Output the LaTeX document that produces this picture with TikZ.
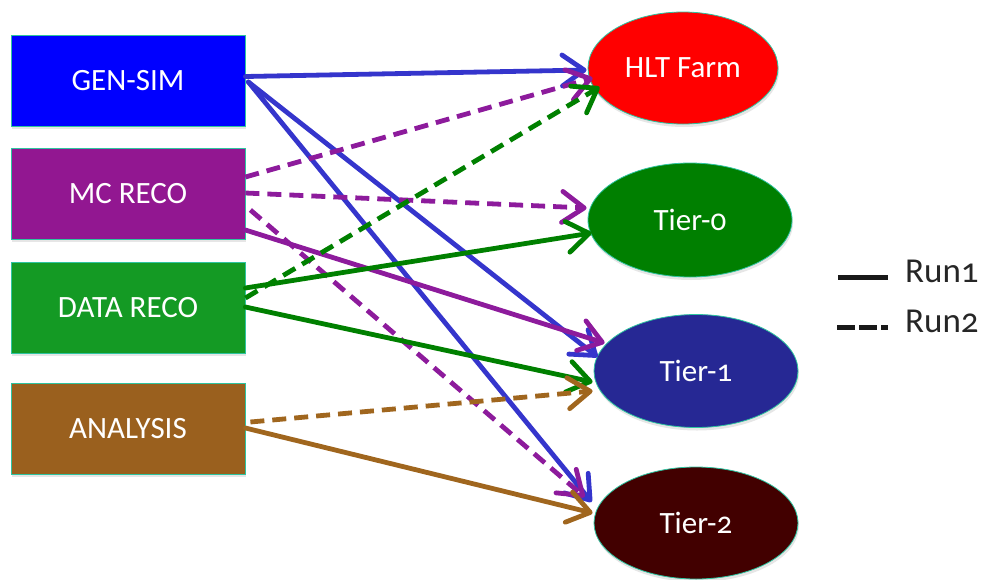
\documentclass[tikz,border=0pt]{standalone}
\usepackage{fontspec}
\setmainfont{Carlito}[Numbers=OldStyle]
\usetikzlibrary{arrows.meta,calc,shadows,shapes.geometric}
\definecolor{cgs}{HTML}{0000FF}
\definecolor{cmc}{HTML}{921791}
\definecolor{cdr}{HTML}{149A24}
\definecolor{can}{HTML}{9A601E}
\definecolor{edge}{HTML}{2EC4A0}
\definecolor{chlt}{HTML}{FF0000}
\definecolor{ct0}{HTML}{007F00}
\definecolor{ct1}{HTML}{262894}
\definecolor{ct2}{HTML}{420000}
\definecolor{ablue}{HTML}{3535CC}
\definecolor{apurple}{HTML}{8D1B9C}
\definecolor{agreen}{HTML}{008000}
\definecolor{abrown}{HTML}{A0661E}
\begin{document}
\begin{tikzpicture}[x=1pt,y=-1pt,
  shade/.style={drop shadow={opacity=0.2,shadow xshift=1pt,shadow yshift=-3pt}},
  box/.style={shade,draw=edge,line width=0.8pt,minimum width=234pt,minimum height=91pt,
    inner sep=0pt,text=white,font=\fontsize{31}{37}\selectfont},
  oval/.style={shade,ellipse,draw=edge,line width=0.8pt,inner sep=0pt,text=white,
    font=\fontsize{31}{37}\selectfont},
  arr/.style={line width=4.8pt,line cap=round,
    -{Straight Barb[length=22pt,width=31pt,line cap=round,line join=round]}},
  dsh/.style={dash pattern=on 14pt off 8pt,line cap=butt},
  legtext/.style={anchor=base west,text=black!85,font=\fontsize{35}{42}\selectfont,inner sep=0pt}
]
\useasboundingbox (0,0) rectangle (985,579);
% boxes
\node[box,fill=cgs] (gs) at (128,80.5) {GEN-SIM};
\node[box,fill=cmc] (mc) at (128,193.5) {MC RECO};
\node[box,fill=cdr] (dr) at (128,307.5) {DATA RECO};
\node[box,fill=can] (an) at (128,428.5) {ANALYSIS};
% ellipses
\node[oval,fill=chlt,minimum width=190pt,minimum height=112pt] (hlt) at (683,68) {HLT Farm};
\node[oval,fill=ct0,minimum width=204pt,minimum height=114pt] (t0) at (690,220) {Tier-0};
\node[oval,fill=ct1,minimum width=204pt,minimum height=113pt] (t1) at (696,371) {Tier-1};
\node[oval,fill=ct2,minimum width=204pt,minimum height=112pt] (t2) at (696,523) {Tier-2};
% arrows
\draw[arr,ablue] ($(gs.east)+(0,-4)$) -- ($(hlt.west)+(-1,2)$);
\draw[arr,ablue] ($(gs.east)+(3,1.5)$) -- ($(t1.west)+(4,-14)$);
\draw[arr,ablue] ($(gs.east)+(3,1.5)$) -- ($(t2.west)+(-2,-21)$);
\draw[arr,apurple,dsh] ($(mc.east)+(0,-16.5)$) -- ($(hlt.west)+(5,10)$);
\draw[arr,apurple,dsh] ($(mc.east)+(0,-0.5)$) -- ($(t0.west)+(-1,-12)$);
\draw[arr,apurple,dsh] ($(mc.east)+(5,16.5)$) -- ($(t2.west)+(-9,-26)$);
\draw[arr,apurple] ($(mc.east)+(0,36.5)$) -- ($(t1.west)+(11,-28)$);
\draw[arr,agreen,dsh] ($(dr.east)+(0,-9.5)$) -- ($(hlt.west)+(12,19)$);
\draw[arr,agreen] ($(dr.east)+(0,-19.5)$) -- ($(t0.west)+(4,13)$);
\draw[arr,agreen] ($(dr.east)+(0,-0.5)$) -- ($(t1.west)+(-1,11)$);
\draw[arr,abrown,dsh] ($(an.east)+(5,-6.5)$) -- ($(t1.west)+(-1,20)$);
\draw[arr,abrown] ($(an.east)+(0,-0.5)$) -- ($(t2.west)+(-1,-10)$);
% legend
\coordinate (l1a) at (838,277);
\coordinate (l1b) at (888,277);
\coordinate (l2a) at (837,327);
\coordinate (l2b) at (888,327);
\draw[line width=5pt,black!90] (l1a) -- (l1b);
\draw[line width=5pt,black!90,dash pattern=on 18pt off 4pt] (l2a) -- (l2b);
\node[legtext] (run1) at (905,282) {Run1};
\node[legtext] (run2) at (905,332) {Run2};
\end{tikzpicture}
\end{document}
